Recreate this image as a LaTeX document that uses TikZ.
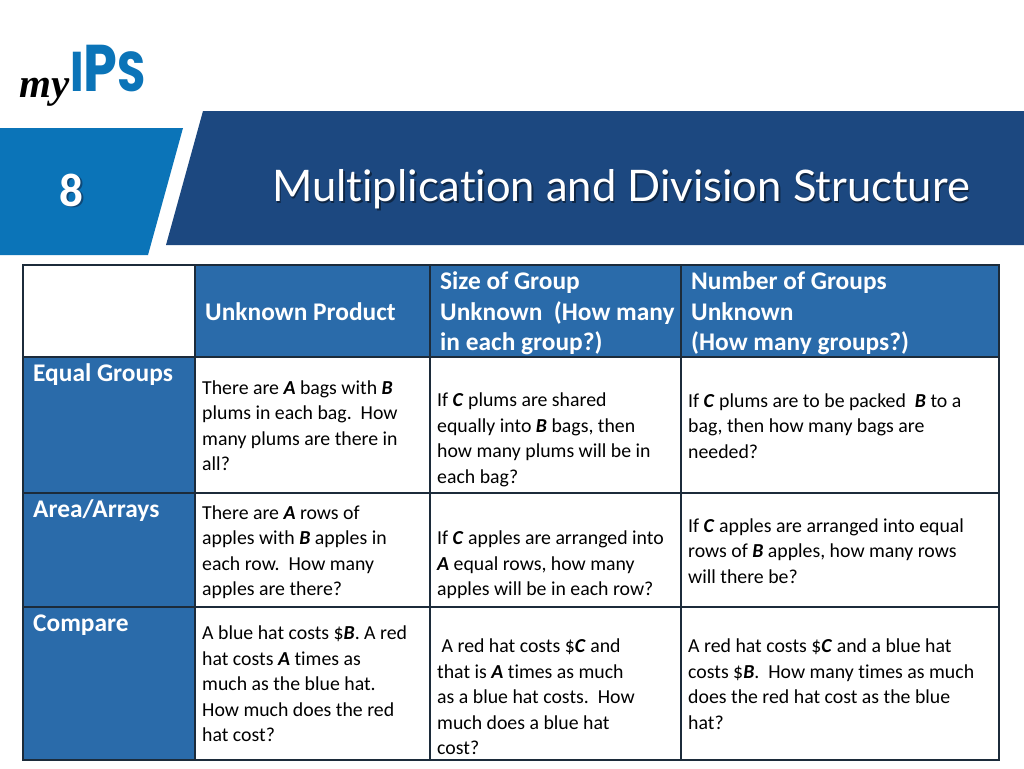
\documentclass[tikz,border=0pt]{standalone}
\usepackage{fontspec}
\setmainfont[Ligatures=CommonOff]{Carlito}
\newfontfamily\titlefont[Ligatures=CommonOff]{Lato}
\newfontfamily\logofont{Poppins}
\newfontfamily\myfont{Liberation Serif}
\definecolor{brightblue}{HTML}{0B74B8}
\definecolor{darkblue}{HTML}{1C4880}
\definecolor{cellblue}{HTML}{2A6BAA}
\definecolor{gridline}{HTML}{1C2B3A}
\tikzset{
    cellbody/.style={anchor=west, align=left, inner sep=0pt, font=\fontsize{19.8}{25.5}\selectfont, text=black},
    headtext/.style={anchor=west, align=left, inner sep=0pt, font=\fontsize{25.4}{30.5}\selectfont\bfseries, text=white},
    sidetext/.style={anchor=base west, inner sep=0pt, font=\fontsize{25.4}{30}\selectfont\bfseries, text=white},
}
\newcommand{\var}[1]{\textbf{\textit{#1}}}
\begin{document}
\begin{tikzpicture}[x=1pt,y=-1pt]
                \useasboundingbox (0,0) rectangle (1024,768);
                \fill[white] (0,0) rectangle (1024,768);

                % banner
                \fill[brightblue] (0,128) -- (183,128) -- (148,255) -- (0,255) -- cycle;
                \fill[darkblue] (203,111) -- (1024,111) -- (1024,245) -- (166,245) -- cycle;
                \node[font=\fontsize{47}{47}\selectfont\bfseries, text=darkblue!60!black, opacity=0.6] at (73,191.5) {8};
                \node (number) [font=\fontsize{47}{47}\selectfont\bfseries, text=white] at (71.5,190) {8};
                \node[font=\titlefont\fontsize{43.5}{44}\selectfont, text=black, opacity=0.45] at (622.5,191) {Multiplication and Division Structure};
                \node (title) [font=\titlefont\fontsize{43.5}{44}\selectfont, text=white] at (621,189.5) {Multiplication and Division Structure};

                % logo
                \node (logoips) [anchor=base west, inner sep=0pt, text=brightblue, font=\logofont\bfseries\fontsize{56}{56}\selectfont] at (70,91) {\scalebox{0.82}[1]{I{\fontsize{66}{66}\selectfont P}S}};
                \node (logomy) [anchor=base east, inner sep=0pt, font=\myfont\fontsize{41}{41}\selectfont\bfseries\itshape, text=black] at (logoips.base west) {\raisebox{-6pt}{my}};

                % table fills
                \fill[cellblue] (195,265) rectangle (999,357);
                \fill[cellblue] (23,357) rectangle (195,760);
                % table grid
                \draw[gridline, line width=1.4pt] (23,265) rectangle (999,760);
                \foreach \gx in {195,430,681}
                    \draw[gridline, line width=1.4pt] (\gx,265) -- (\gx,760);
                \foreach \gy in {357,493,607}
                    \draw[gridline, line width=1.4pt] (23,\gy) -- (999,\gy);

                % header row
                \node (headprod) [headtext] at (205,312) {Unknown Product};
                \node (headsize) [headtext] at (440,313.5) {Size of Group\\Unknown\ \ (How many\\in each group?)};
                \node (headnum) [headtext] at (691,313.5) {Number of Groups\\Unknown\\(How many groups?)};

                % side column
                \node (sideequal) [sidetext] at (33,381) {Equal Groups};
                \node (sidearea) [sidetext] at (33,517) {Area/Arrays};
                \node (sidecomp) [sidetext] at (33,631) {Compare};

                % body cells
                \node (equalprod) [cellbody] at (202,425.5) {There are \var{A} bags with \var{B}\\plums in each bag.\ \ How\\many plums are there in\\all?};
                \node (equalsize) [cellbody] at (437,440) {If \var{C} plums are shared\\equally into \var{B} bags, then\\how many plums will be in\\each bag?};
                \node (equalnum) [cellbody] at (688,426) {If \var{C} plums are to be packed\ \ \var{B} to a\\bag, then how many bags are\\needed?};
                \node (areaprod) [cellbody] at (202,552) {There are \var{A} rows of\\apples with \var{B} apples in\\each row.\ \ How many\\apples are there?};
                \node (areasize) [cellbody] at (437,565) {If \var{C} apples are arranged into\\\var{A} equal rows, how many\\apples will be in each row?};
                \node (areanum) [cellbody] at (688,551) {If \var{C} apples are arranged into equal\\rows of \var{B} apples, how many rows\\will there be?};
                \node (compprod) [cellbody] at (202,684) {A blue hat costs \$\var{B}. A red\\hat costs \var{A} times as\\much as the blue hat.\\How much does the red\\hat cost?};
                \node (compsize) [cellbody] at (437,697) {\ A red hat costs \$\var{C} and\\that is \var{A} times as much\\as a blue hat costs.\ \ How\\much does a blue hat\\cost?};
                \node (compnum) [cellbody] at (688,684) {A red hat costs \$\var{C} and a blue hat\\costs \$\var{B}.\ \ How many times as much\\does the red hat cost as the blue\\hat?};
            \end{tikzpicture}
\end{document}
